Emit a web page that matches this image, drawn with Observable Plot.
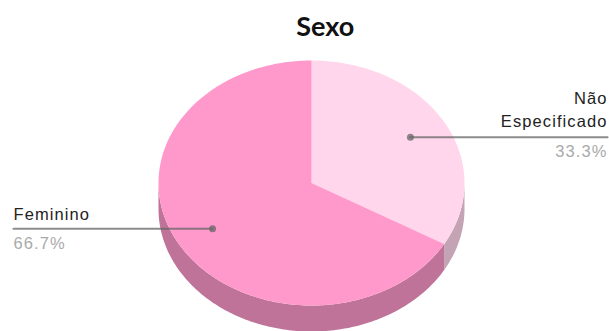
<!DOCTYPE html>
<html><head><meta charset="utf-8">
<script src="https://cdn.jsdelivr.net/npm/d3@7"></script>
<script src="https://cdn.jsdelivr.net/npm/@observablehq/plot@0.6"></script>
<style>html,body{margin:0;padding:0;background:#fff}svg{display:block}
.lab text,text.lab{letter-spacing:1.1px}</style>
</head><body><div id="c"></div>
<script>
const categories = ["Não Especificado", "Feminino"];
const shares = [33.3, 66.7];
const shareLabels = ["33.3%", "66.7%"];
const topColors = ["#FFD6EB", "#FF99CC"];
const sideColors = ["#C4A3B5", "#BF7399"];
const titleText = "Sexo";

const depth = 0.212, step = Math.PI / 180;
const total = d3.sum(shares);
const px = a => Math.sin(a), py = a => -Math.cos(a);
let start = 0;
const slices = shares.map((s, i) => {
  const a0 = start, a1 = start + s / total * 2 * Math.PI; start = a1;
  return {i, a0, a1, mid: (a0 + a1) / 2};
});
const arc = (a0, a1) => { const n = Math.max(2, Math.ceil((a1 - a0) / step)); return d3.range(n + 1).map(k => a0 + (a1 - a0) * k / n); };
const tops = slices.flatMap(s => [{x: 0, y: 0, i: s.i}, ...arc(s.a0, s.a1).map(a => ({x: px(a), y: py(a), i: s.i}))]);
const walls = slices.flatMap(s => {
  const a0 = Math.max(s.a0, Math.PI / 2), a1 = Math.min(s.a1, 3 * Math.PI / 2);
  if (a1 <= a0) return [];
  const as = arc(a0, a1);
  return [...as.map(a => ({x: px(a), y: py(a), i: s.i})), ...as.slice().reverse().map(a => ({x: px(a), y: py(a) + depth, i: s.i}))];
});
const anchorR = 0.747, xEnd = [1.935, -1.948];
const labels = slices.map(s => ({
  i: s.i, cat: categories[s.i], pct: shareLabels[s.i],
  x: anchorR * px(s.mid), y: anchorR * py(s.mid), xe: xEnd[s.i]
}));
const right = labels.filter(d => d.i === 0), left = labels.filter(d => d.i === 1);
const leaders = labels.flatMap(d => [{x: d.x, y: d.y, i: d.i}, {x: d.xe, y: d.y, i: d.i}]);
const font = {fontFamily: "'Liberation Sans',sans-serif", fontSize: 16.5, className: "lab"};
const words = categories[0].split(" ");

const chart = Plot.plot({
  width: 609, height: 331, margin: 0,
  x: {domain: [-1, 1], range: [158, 464], axis: null},
  y: {domain: [-1, 1], range: [60, 305], axis: null},
  marks: [
    Plot.line(walls, {x: "x", y: "y", z: "i", fill: d => sideColors[d.i], stroke: null, curve: "linear"}),
    Plot.line(tops, {x: "x", y: "y", z: "i", fill: d => topColors[d.i], stroke: null, curve: "linear"}),
    Plot.line(leaders, {x: "x", y: "y", z: "i", stroke: "#666", strokeOpacity: 0.75, strokeWidth: 2}),
    Plot.dot(labels, {x: "x", y: "y", r: 3.5, fill: "#666", fillOpacity: 0.75, stroke: null}),
    Plot.text(right, {x: "xe", y: "y", text: () => words[0], dy: -38, textAnchor: "end", fill: "#222", ...font}),
    Plot.text(right, {x: "xe", y: "y", text: () => words[1], dy: -15, textAnchor: "end", fill: "#222", ...font}),
    Plot.text(right, {x: "xe", y: "y", text: "pct", dy: 15, textAnchor: "end", fill: "#aaa", ...font}),
    Plot.text(left, {x: "xe", y: "y", text: "cat", dy: -14, textAnchor: "start", fill: "#222", ...font}),
    Plot.text(left, {x: "xe", y: "y", text: "pct", dy: 15, textAnchor: "start", fill: "#aaa", ...font}),
    Plot.text([titleText], {x: [0.09], y: [-1.27], text: d => d, fontFamily: "Lato", fontWeight: 700, fontSize: 27, fill: "#111"})
  ]
});
document.getElementById("c").append(chart);
</script></body></html>
